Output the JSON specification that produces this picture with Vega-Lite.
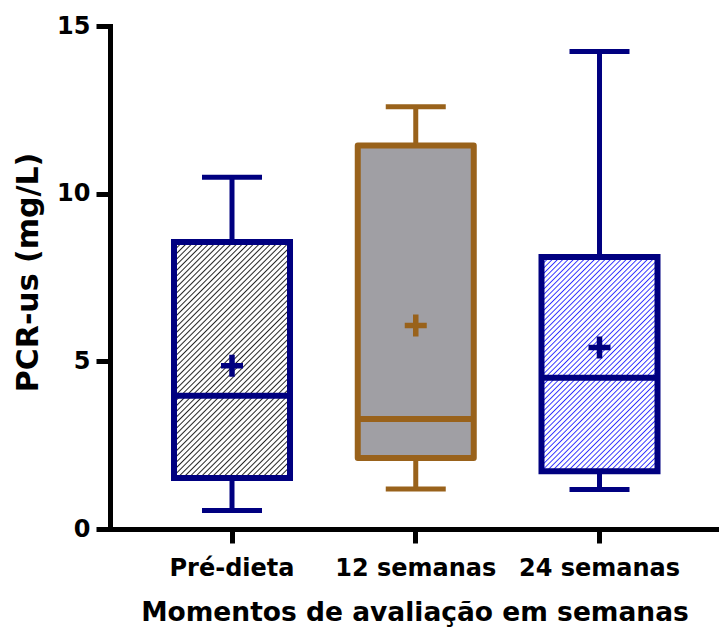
{
  "$schema": "https://vega.github.io/schema/vega-lite/v6.json",
  "autosize": {"type": "none"},
  "padding": {"left": 110, "top": 26, "right": 0, "bottom": 102},
  "width": 609,
  "height": 503,
  "background": "white",
  "config": {
    "view": {"stroke": null},
    "axis": {
      "domainColor": "black", "domainWidth": 5, "domainCap": "square",
      "tickColor": "black", "tickWidth": 5, "tickSize": 14,
      "labelFont": "DejaVu Sans", "labelFontWeight": "bold", "labelFontSize": 24, "labelColor": "black",
      "titleFont": "DejaVu Sans", "titleFontWeight": "bold", "titleColor": "black",
      "grid": false
    }
  },
  "data": {
    "values": [
      {"group": "Pré-dieta", "lower": 0.55, "q1": 1.52, "median": 3.97, "q3": 8.56, "upper": 10.49, "mean": 4.87},
      {"group": "12 semanas", "lower": 1.19, "q1": 2.12, "median": 3.28, "q3": 11.44, "upper": 12.59, "mean": 6.07},
      {"group": "24 semanas", "lower": 1.18, "q1": 1.72, "median": 4.51, "q3": 8.11, "upper": 14.24, "mean": 5.41}
    ]
  },
  "encoding": {
    "x": {
      "field": "group", "type": "nominal", "sort": ["Pré-dieta", "12 semanas", "24 semanas"],
      "scale": {"type": "band", "paddingInner": 0.3687, "paddingOuter": 0.3415, "align": 0.51},
      "axis": {"labelAngle": 0, "labelPadding": 13, "title": "Momentos de avaliação em semanas", "titleFontSize": 26.5, "titleY": 83, "titleBaseline": "middle"}
    },
    "color": {
      "field": "group", "type": "nominal",
      "scale": {"domain": ["Pré-dieta", "12 semanas", "24 semanas"], "range": ["#000080", "#99621b", "#000080"]},
      "legend": null
    }
  },
  "layer": [
    {
      "mark": {"type": "rule", "strokeWidth": 5, "opacity": 1},
      "encoding": {
        "y": {"field": "lower", "type": "quantitative", "scale": {"domain": [0, 15], "nice": false, "zero": true},
          "axis": {"values": [0, 5, 10, 15], "labelPadding": 6, "title": "PCR-us (mg/L)", "titleFontSize": 30, "titleX": -82, "titleY": 246, "titleBaseline": "middle", "titleAlign": "center"}},
        "y2": {"field": "upper"}
      }
    },
    {
      "mark": {"type": "tick", "thickness": 5, "size": 60, "opacity": 1},
      "encoding": {"y": {"field": "lower", "type": "quantitative"}}
    },
    {
      "mark": {"type": "tick", "thickness": 5, "size": 60, "opacity": 1},
      "encoding": {"y": {"field": "upper", "type": "quantitative"}}
    },
    {
      "transform": [{"filter": "datum.group === 'Pré-dieta'"}],
      "mark": {"type": "bar", "strokeWidth": 6, "stroke": "#000080", "opacity": 1,
        "fill": {"gradient": "linear", "x1": 0, "y1": 0, "x2": 0.59, "y2": 1.201, "stops": [
{"offset":0.004,"color":"#ffffff"},{"offset":0.008,"color":"#262626"},{"offset":0.012,"color":"#ffffff"},
{"offset":0.020,"color":"#ffffff"},{"offset":0.024,"color":"#262626"},{"offset":0.028,"color":"#ffffff"},
{"offset":0.036,"color":"#ffffff"},{"offset":0.040,"color":"#262626"},{"offset":0.044,"color":"#ffffff"},
{"offset":0.052,"color":"#ffffff"},{"offset":0.056,"color":"#262626"},{"offset":0.060,"color":"#ffffff"},
{"offset":0.068,"color":"#ffffff"},{"offset":0.072,"color":"#262626"},{"offset":0.076,"color":"#ffffff"},
{"offset":0.084,"color":"#ffffff"},{"offset":0.088,"color":"#262626"},{"offset":0.092,"color":"#ffffff"},
{"offset":0.100,"color":"#ffffff"},{"offset":0.104,"color":"#262626"},{"offset":0.108,"color":"#ffffff"},
{"offset":0.116,"color":"#ffffff"},{"offset":0.120,"color":"#262626"},{"offset":0.124,"color":"#ffffff"},
{"offset":0.132,"color":"#ffffff"},{"offset":0.136,"color":"#262626"},{"offset":0.140,"color":"#ffffff"},
{"offset":0.148,"color":"#ffffff"},{"offset":0.152,"color":"#262626"},{"offset":0.156,"color":"#ffffff"},
{"offset":0.164,"color":"#ffffff"},{"offset":0.168,"color":"#262626"},{"offset":0.172,"color":"#ffffff"},
{"offset":0.180,"color":"#ffffff"},{"offset":0.184,"color":"#262626"},{"offset":0.188,"color":"#ffffff"},
{"offset":0.196,"color":"#ffffff"},{"offset":0.200,"color":"#262626"},{"offset":0.204,"color":"#ffffff"},
{"offset":0.212,"color":"#ffffff"},{"offset":0.216,"color":"#262626"},{"offset":0.220,"color":"#ffffff"},
{"offset":0.228,"color":"#ffffff"},{"offset":0.232,"color":"#262626"},{"offset":0.236,"color":"#ffffff"},
{"offset":0.244,"color":"#ffffff"},{"offset":0.248,"color":"#262626"},{"offset":0.252,"color":"#ffffff"},
{"offset":0.260,"color":"#ffffff"},{"offset":0.264,"color":"#262626"},{"offset":0.268,"color":"#ffffff"},
{"offset":0.276,"color":"#ffffff"},{"offset":0.280,"color":"#262626"},{"offset":0.284,"color":"#ffffff"},
{"offset":0.292,"color":"#ffffff"},{"offset":0.296,"color":"#262626"},{"offset":0.300,"color":"#ffffff"},
{"offset":0.308,"color":"#ffffff"},{"offset":0.312,"color":"#262626"},{"offset":0.316,"color":"#ffffff"},
{"offset":0.324,"color":"#ffffff"},{"offset":0.328,"color":"#262626"},{"offset":0.332,"color":"#ffffff"},
{"offset":0.340,"color":"#ffffff"},{"offset":0.344,"color":"#262626"},{"offset":0.348,"color":"#ffffff"},
{"offset":0.356,"color":"#ffffff"},{"offset":0.360,"color":"#262626"},{"offset":0.364,"color":"#ffffff"},
{"offset":0.372,"color":"#ffffff"},{"offset":0.376,"color":"#262626"},{"offset":0.380,"color":"#ffffff"},
{"offset":0.388,"color":"#ffffff"},{"offset":0.392,"color":"#262626"},{"offset":0.396,"color":"#ffffff"},
{"offset":0.404,"color":"#ffffff"},{"offset":0.408,"color":"#262626"},{"offset":0.412,"color":"#ffffff"},
{"offset":0.420,"color":"#ffffff"},{"offset":0.424,"color":"#262626"},{"offset":0.428,"color":"#ffffff"},
{"offset":0.436,"color":"#ffffff"},{"offset":0.440,"color":"#262626"},{"offset":0.444,"color":"#ffffff"},
{"offset":0.452,"color":"#ffffff"},{"offset":0.456,"color":"#262626"},{"offset":0.460,"color":"#ffffff"},
{"offset":0.468,"color":"#ffffff"},{"offset":0.472,"color":"#262626"},{"offset":0.476,"color":"#ffffff"},
{"offset":0.484,"color":"#ffffff"},{"offset":0.488,"color":"#262626"},{"offset":0.492,"color":"#ffffff"},
{"offset":0.500,"color":"#ffffff"},{"offset":0.504,"color":"#262626"},{"offset":0.508,"color":"#ffffff"},
{"offset":0.516,"color":"#ffffff"},{"offset":0.520,"color":"#262626"},{"offset":0.524,"color":"#ffffff"},
{"offset":0.532,"color":"#ffffff"},{"offset":0.536,"color":"#262626"},{"offset":0.540,"color":"#ffffff"},
{"offset":0.548,"color":"#ffffff"},{"offset":0.552,"color":"#262626"},{"offset":0.556,"color":"#ffffff"},
{"offset":0.564,"color":"#ffffff"},{"offset":0.568,"color":"#262626"},{"offset":0.572,"color":"#ffffff"},
{"offset":0.580,"color":"#ffffff"},{"offset":0.584,"color":"#262626"},{"offset":0.588,"color":"#ffffff"},
{"offset":0.596,"color":"#ffffff"},{"offset":0.600,"color":"#262626"},{"offset":0.604,"color":"#ffffff"},
{"offset":0.612,"color":"#ffffff"},{"offset":0.616,"color":"#262626"},{"offset":0.620,"color":"#ffffff"},
{"offset":0.628,"color":"#ffffff"},{"offset":0.632,"color":"#262626"},{"offset":0.636,"color":"#ffffff"},
{"offset":0.644,"color":"#ffffff"},{"offset":0.648,"color":"#262626"},{"offset":0.652,"color":"#ffffff"},
{"offset":0.660,"color":"#ffffff"},{"offset":0.664,"color":"#262626"},{"offset":0.668,"color":"#ffffff"},
{"offset":0.676,"color":"#ffffff"},{"offset":0.680,"color":"#262626"},{"offset":0.684,"color":"#ffffff"},
{"offset":0.692,"color":"#ffffff"},{"offset":0.696,"color":"#262626"},{"offset":0.700,"color":"#ffffff"},
{"offset":0.708,"color":"#ffffff"},{"offset":0.712,"color":"#262626"},{"offset":0.716,"color":"#ffffff"},
{"offset":0.724,"color":"#ffffff"},{"offset":0.728,"color":"#262626"},{"offset":0.732,"color":"#ffffff"},
{"offset":0.740,"color":"#ffffff"},{"offset":0.744,"color":"#262626"},{"offset":0.748,"color":"#ffffff"},
{"offset":0.756,"color":"#ffffff"},{"offset":0.760,"color":"#262626"},{"offset":0.764,"color":"#ffffff"},
{"offset":0.772,"color":"#ffffff"},{"offset":0.776,"color":"#262626"},{"offset":0.780,"color":"#ffffff"},
{"offset":0.788,"color":"#ffffff"},{"offset":0.792,"color":"#262626"},{"offset":0.796,"color":"#ffffff"},
{"offset":0.804,"color":"#ffffff"},{"offset":0.808,"color":"#262626"},{"offset":0.812,"color":"#ffffff"},
{"offset":0.820,"color":"#ffffff"},{"offset":0.824,"color":"#262626"},{"offset":0.828,"color":"#ffffff"},
{"offset":0.836,"color":"#ffffff"},{"offset":0.840,"color":"#262626"},{"offset":0.844,"color":"#ffffff"},
{"offset":0.852,"color":"#ffffff"},{"offset":0.856,"color":"#262626"},{"offset":0.860,"color":"#ffffff"},
{"offset":0.868,"color":"#ffffff"},{"offset":0.872,"color":"#262626"},{"offset":0.876,"color":"#ffffff"},
{"offset":0.884,"color":"#ffffff"},{"offset":0.888,"color":"#262626"},{"offset":0.892,"color":"#ffffff"},
{"offset":0.900,"color":"#ffffff"},{"offset":0.904,"color":"#262626"},{"offset":0.908,"color":"#ffffff"},
{"offset":0.916,"color":"#ffffff"},{"offset":0.920,"color":"#262626"},{"offset":0.924,"color":"#ffffff"},
{"offset":0.932,"color":"#ffffff"},{"offset":0.936,"color":"#262626"},{"offset":0.940,"color":"#ffffff"},
{"offset":0.948,"color":"#ffffff"},{"offset":0.952,"color":"#262626"},{"offset":0.956,"color":"#ffffff"},
{"offset":0.964,"color":"#ffffff"},{"offset":0.968,"color":"#262626"},{"offset":0.972,"color":"#ffffff"},
{"offset":0.980,"color":"#ffffff"},{"offset":0.984,"color":"#262626"},{"offset":0.988,"color":"#ffffff"}
        ]}},
      "encoding": {"y": {"field": "q1", "type": "quantitative"}, "y2": {"field": "q3"}}
    },
    {
      "transform": [{"filter": "datum.group === '12 semanas'"}],
      "mark": {"type": "bar", "strokeWidth": 6, "stroke": "#99621b", "strokeJoin": "round", "fill": "#a09fa4", "opacity": 1},
      "encoding": {"y": {"field": "q1", "type": "quantitative"}, "y2": {"field": "q3"}}
    },
    {
      "transform": [{"filter": "datum.group === '24 semanas'"}],
      "mark": {"type": "bar", "strokeWidth": 6, "stroke": "#000080", "opacity": 1,
        "fill": {"gradient": "linear", "x1": 0, "y1": 0, "x2": 0.645, "y2": 1.192, "stops": [
{"offset":0.004,"color":"#ffffff"},{"offset":0.008,"color":"#2f2fff"},{"offset":0.012,"color":"#ffffff"},
{"offset":0.020,"color":"#ffffff"},{"offset":0.024,"color":"#2f2fff"},{"offset":0.028,"color":"#ffffff"},
{"offset":0.036,"color":"#ffffff"},{"offset":0.040,"color":"#2f2fff"},{"offset":0.044,"color":"#ffffff"},
{"offset":0.052,"color":"#ffffff"},{"offset":0.056,"color":"#2f2fff"},{"offset":0.060,"color":"#ffffff"},
{"offset":0.068,"color":"#ffffff"},{"offset":0.072,"color":"#2f2fff"},{"offset":0.076,"color":"#ffffff"},
{"offset":0.084,"color":"#ffffff"},{"offset":0.088,"color":"#2f2fff"},{"offset":0.092,"color":"#ffffff"},
{"offset":0.100,"color":"#ffffff"},{"offset":0.104,"color":"#2f2fff"},{"offset":0.108,"color":"#ffffff"},
{"offset":0.116,"color":"#ffffff"},{"offset":0.120,"color":"#2f2fff"},{"offset":0.124,"color":"#ffffff"},
{"offset":0.132,"color":"#ffffff"},{"offset":0.136,"color":"#2f2fff"},{"offset":0.140,"color":"#ffffff"},
{"offset":0.148,"color":"#ffffff"},{"offset":0.152,"color":"#2f2fff"},{"offset":0.156,"color":"#ffffff"},
{"offset":0.164,"color":"#ffffff"},{"offset":0.168,"color":"#2f2fff"},{"offset":0.172,"color":"#ffffff"},
{"offset":0.180,"color":"#ffffff"},{"offset":0.184,"color":"#2f2fff"},{"offset":0.188,"color":"#ffffff"},
{"offset":0.196,"color":"#ffffff"},{"offset":0.200,"color":"#2f2fff"},{"offset":0.204,"color":"#ffffff"},
{"offset":0.212,"color":"#ffffff"},{"offset":0.216,"color":"#2f2fff"},{"offset":0.220,"color":"#ffffff"},
{"offset":0.228,"color":"#ffffff"},{"offset":0.232,"color":"#2f2fff"},{"offset":0.236,"color":"#ffffff"},
{"offset":0.244,"color":"#ffffff"},{"offset":0.248,"color":"#2f2fff"},{"offset":0.252,"color":"#ffffff"},
{"offset":0.260,"color":"#ffffff"},{"offset":0.264,"color":"#2f2fff"},{"offset":0.268,"color":"#ffffff"},
{"offset":0.276,"color":"#ffffff"},{"offset":0.280,"color":"#2f2fff"},{"offset":0.284,"color":"#ffffff"},
{"offset":0.292,"color":"#ffffff"},{"offset":0.296,"color":"#2f2fff"},{"offset":0.300,"color":"#ffffff"},
{"offset":0.308,"color":"#ffffff"},{"offset":0.312,"color":"#2f2fff"},{"offset":0.316,"color":"#ffffff"},
{"offset":0.324,"color":"#ffffff"},{"offset":0.328,"color":"#2f2fff"},{"offset":0.332,"color":"#ffffff"},
{"offset":0.340,"color":"#ffffff"},{"offset":0.344,"color":"#2f2fff"},{"offset":0.348,"color":"#ffffff"},
{"offset":0.356,"color":"#ffffff"},{"offset":0.360,"color":"#2f2fff"},{"offset":0.364,"color":"#ffffff"},
{"offset":0.372,"color":"#ffffff"},{"offset":0.376,"color":"#2f2fff"},{"offset":0.380,"color":"#ffffff"},
{"offset":0.388,"color":"#ffffff"},{"offset":0.392,"color":"#2f2fff"},{"offset":0.396,"color":"#ffffff"},
{"offset":0.404,"color":"#ffffff"},{"offset":0.408,"color":"#2f2fff"},{"offset":0.412,"color":"#ffffff"},
{"offset":0.420,"color":"#ffffff"},{"offset":0.424,"color":"#2f2fff"},{"offset":0.428,"color":"#ffffff"},
{"offset":0.436,"color":"#ffffff"},{"offset":0.440,"color":"#2f2fff"},{"offset":0.444,"color":"#ffffff"},
{"offset":0.452,"color":"#ffffff"},{"offset":0.456,"color":"#2f2fff"},{"offset":0.460,"color":"#ffffff"},
{"offset":0.468,"color":"#ffffff"},{"offset":0.472,"color":"#2f2fff"},{"offset":0.476,"color":"#ffffff"},
{"offset":0.484,"color":"#ffffff"},{"offset":0.488,"color":"#2f2fff"},{"offset":0.492,"color":"#ffffff"},
{"offset":0.500,"color":"#ffffff"},{"offset":0.504,"color":"#2f2fff"},{"offset":0.508,"color":"#ffffff"},
{"offset":0.516,"color":"#ffffff"},{"offset":0.520,"color":"#2f2fff"},{"offset":0.524,"color":"#ffffff"},
{"offset":0.532,"color":"#ffffff"},{"offset":0.536,"color":"#2f2fff"},{"offset":0.540,"color":"#ffffff"},
{"offset":0.548,"color":"#ffffff"},{"offset":0.552,"color":"#2f2fff"},{"offset":0.556,"color":"#ffffff"},
{"offset":0.564,"color":"#ffffff"},{"offset":0.568,"color":"#2f2fff"},{"offset":0.572,"color":"#ffffff"},
{"offset":0.580,"color":"#ffffff"},{"offset":0.584,"color":"#2f2fff"},{"offset":0.588,"color":"#ffffff"},
{"offset":0.596,"color":"#ffffff"},{"offset":0.600,"color":"#2f2fff"},{"offset":0.604,"color":"#ffffff"},
{"offset":0.612,"color":"#ffffff"},{"offset":0.616,"color":"#2f2fff"},{"offset":0.620,"color":"#ffffff"},
{"offset":0.628,"color":"#ffffff"},{"offset":0.632,"color":"#2f2fff"},{"offset":0.636,"color":"#ffffff"},
{"offset":0.644,"color":"#ffffff"},{"offset":0.648,"color":"#2f2fff"},{"offset":0.652,"color":"#ffffff"},
{"offset":0.660,"color":"#ffffff"},{"offset":0.664,"color":"#2f2fff"},{"offset":0.668,"color":"#ffffff"},
{"offset":0.676,"color":"#ffffff"},{"offset":0.680,"color":"#2f2fff"},{"offset":0.684,"color":"#ffffff"},
{"offset":0.692,"color":"#ffffff"},{"offset":0.696,"color":"#2f2fff"},{"offset":0.700,"color":"#ffffff"},
{"offset":0.708,"color":"#ffffff"},{"offset":0.712,"color":"#2f2fff"},{"offset":0.716,"color":"#ffffff"},
{"offset":0.724,"color":"#ffffff"},{"offset":0.728,"color":"#2f2fff"},{"offset":0.732,"color":"#ffffff"},
{"offset":0.740,"color":"#ffffff"},{"offset":0.744,"color":"#2f2fff"},{"offset":0.748,"color":"#ffffff"},
{"offset":0.756,"color":"#ffffff"},{"offset":0.760,"color":"#2f2fff"},{"offset":0.764,"color":"#ffffff"},
{"offset":0.772,"color":"#ffffff"},{"offset":0.776,"color":"#2f2fff"},{"offset":0.780,"color":"#ffffff"},
{"offset":0.788,"color":"#ffffff"},{"offset":0.792,"color":"#2f2fff"},{"offset":0.796,"color":"#ffffff"},
{"offset":0.804,"color":"#ffffff"},{"offset":0.808,"color":"#2f2fff"},{"offset":0.812,"color":"#ffffff"},
{"offset":0.820,"color":"#ffffff"},{"offset":0.824,"color":"#2f2fff"},{"offset":0.828,"color":"#ffffff"},
{"offset":0.836,"color":"#ffffff"},{"offset":0.840,"color":"#2f2fff"},{"offset":0.844,"color":"#ffffff"},
{"offset":0.852,"color":"#ffffff"},{"offset":0.856,"color":"#2f2fff"},{"offset":0.860,"color":"#ffffff"},
{"offset":0.868,"color":"#ffffff"},{"offset":0.872,"color":"#2f2fff"},{"offset":0.876,"color":"#ffffff"},
{"offset":0.884,"color":"#ffffff"},{"offset":0.888,"color":"#2f2fff"},{"offset":0.892,"color":"#ffffff"},
{"offset":0.900,"color":"#ffffff"},{"offset":0.904,"color":"#2f2fff"},{"offset":0.908,"color":"#ffffff"},
{"offset":0.916,"color":"#ffffff"},{"offset":0.920,"color":"#2f2fff"},{"offset":0.924,"color":"#ffffff"},
{"offset":0.932,"color":"#ffffff"},{"offset":0.936,"color":"#2f2fff"},{"offset":0.940,"color":"#ffffff"},
{"offset":0.948,"color":"#ffffff"},{"offset":0.952,"color":"#2f2fff"},{"offset":0.956,"color":"#ffffff"},
{"offset":0.964,"color":"#ffffff"},{"offset":0.968,"color":"#2f2fff"},{"offset":0.972,"color":"#ffffff"},
{"offset":0.980,"color":"#ffffff"},{"offset":0.984,"color":"#2f2fff"},{"offset":0.988,"color":"#ffffff"}
        ]}},
      "encoding": {"y": {"field": "q1", "type": "quantitative"}, "y2": {"field": "q3"}}
    },
    {
      "mark": {"type": "tick", "thickness": 6, "size": 116, "opacity": 1},
      "encoding": {"y": {"field": "median", "type": "quantitative"}}
    },
    {
      "mark": {"type": "point", "shape": "M-1,0L1,0M0,-1L0,1", "filled": false, "size": 484, "strokeWidth": 5.5, "opacity": 1},
      "encoding": {"y": {"field": "mean", "type": "quantitative"}}
    }
  ]
}
